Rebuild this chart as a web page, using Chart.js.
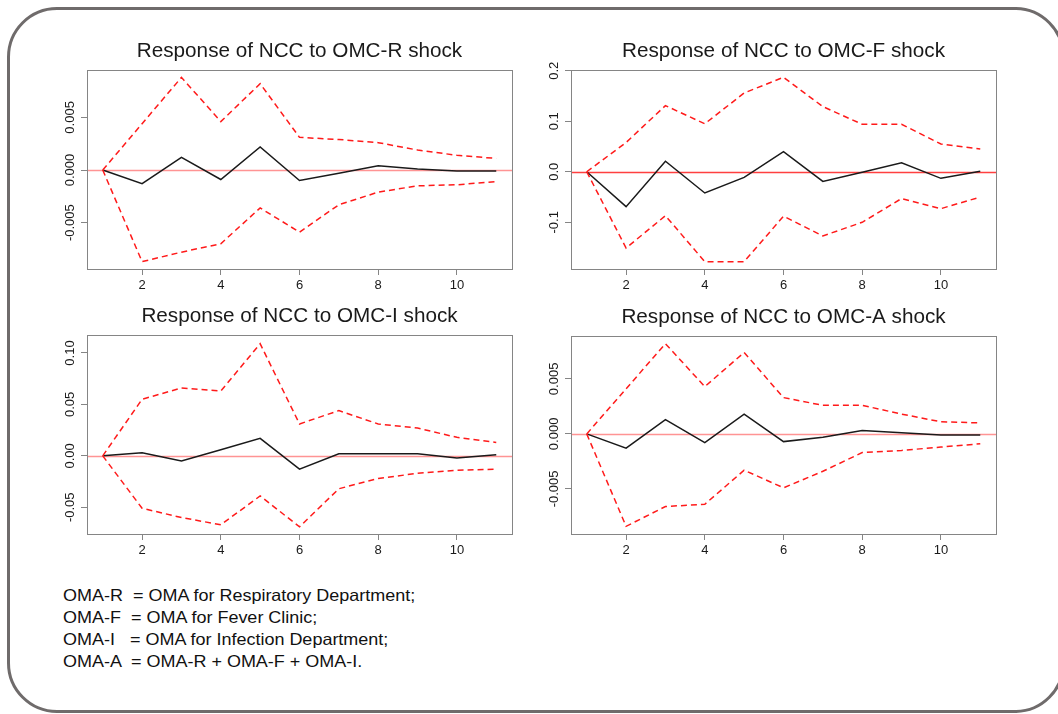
<!DOCTYPE html>
<html>
<head>
<meta charset="utf-8">
<script src="https://cdn.jsdelivr.net/npm/chart.js@4.4.1/dist/chart.umd.min.js"></script>
<style>
  html, body { margin: 0; padding: 0; background: #fff; overflow: hidden; }
  body { width: 1058px; height: 714px; position: relative; font-family: "Liberation Sans", Arial, sans-serif; }
  .frame { position: absolute; left: 7px; top: 7px; width: 1052px; height: 700px; border: 3px solid #6f6b6b; border-radius: 50px; }
  canvas { position: absolute; }
  .note { position: absolute; left: 63px; font-size: 16.5px; color: #111; white-space: pre; line-height: 1; transform: scaleX(1.09); transform-origin: left center; }
</style>
</head>
<body>
<div class="frame"></div>
<canvas id="c1"></canvas>
<canvas id="c2"></canvas>
<canvas id="c3"></canvas>
<canvas id="c4"></canvas>
<div class="note" style="top:587px">OMA-R  = OMA for Respiratory Department;</div>
<div class="note" style="top:609px">OMA-F  = OMA for Fever Clinic;</div>
<div class="note" style="top:631px">OMA-I   = OMA for Infection Department;</div>
<div class="note" style="top:653px">OMA-A  = OMA-R + OMA-F + OMA-I.</div>
<script>
// horizon steps
var steps = [1, 2, 3, 4, 5, 6, 7, 8, 9, 10, 11];
var xTicks = [2, 4, 6, 8, 10];

// OMC-R shock
var rIrf   = [0, -0.0013, 0.0012, -0.0009, 0.0022, -0.0010, -0.0003, 0.0004, 0.0001, -0.0001, -0.0001];
var rUpper = [0, 0.0044, 0.0088, 0.0046, 0.0082, 0.0031, 0.0029, 0.0026, 0.0019, 0.0014, 0.0011];
var rLower = [0, -0.0087, -0.0078, -0.0070, -0.0036, -0.0059, -0.0033, -0.0021, -0.0015, -0.0014, -0.0011];

// OMC-F shock
var fIrf   = [0, -0.069, 0.021, -0.042, -0.011, 0.040, -0.019, -0.001, 0.018, -0.013, 0.001];
var fUpper = [0, 0.058, 0.131, 0.095, 0.156, 0.187, 0.129, 0.094, 0.094, 0.055, 0.045];
var fLower = [0, -0.151, -0.087, -0.178, -0.178, -0.088, -0.127, -0.100, -0.053, -0.073, -0.050];

// OMC-I shock
var iIrf   = [0, 0.003, -0.005, 0.006, 0.017, -0.013, 0.002, 0.002, 0.002, -0.002, 0.001];
var iUpper = [0, 0.055, 0.066, 0.063, 0.109, 0.031, 0.044, 0.031, 0.027, 0.018, 0.013];
var iLower = [0, -0.051, -0.060, -0.067, -0.039, -0.069, -0.032, -0.022, -0.017, -0.014, -0.013];

// OMC-A shock
var aIrf   = [0, -0.0013, 0.0013, -0.0008, 0.0018, -0.0007, -0.0003, 0.0003, 0.0001, -0.0001, -0.0001];
var aUpper = [0, 0.0041, 0.0082, 0.0043, 0.0074, 0.0033, 0.0026, 0.0026, 0.0018, 0.0011, 0.0010];
var aLower = [0, -0.0084, -0.0066, -0.0064, -0.0033, -0.0049, -0.0034, -0.0017, -0.0015, -0.0012, -0.0009];

var ticksSmall = [-0.005, 0, 0.005];
var labelsSmall = ['-0.005', '0.000', '0.005'];
var ticksF = [-0.1, 0, 0.1, 0.2];
var labelsF = ['-0.1', '0.0', '0.1', '0.2'];
var ticksI = [-0.05, 0, 0.05, 0.10];
var labelsI = ['-0.05', '0.00', '0.05', '0.10'];

var FONT = '"Liberation Sans", Arial, sans-serif';
var PAD_L = 60, PAD_T = 55, PAD_R = 20, PAD_B = 35;

function pts(arr) {
  return steps.map(function (s, i) { return { x: s, y: arr[i] }; });
}

// frame, zero line, rotated y labels and title
var panelDecor = {
  id: 'panelDecor',
  beforeDatasetsDraw: function (chart, args, opts) {
    var a = chart.chartArea, ctx = chart.ctx;
    var y0 = Math.round(chart.scales.y.getPixelForValue(0)) + 0.5;
    ctx.save();
    ctx.strokeStyle = opts.zeroColor;
    ctx.lineWidth = 1.5;
    ctx.beginPath();
    ctx.moveTo(a.left, y0);
    ctx.lineTo(a.right, y0);
    ctx.stroke();
    ctx.restore();
  },
  afterDraw: function (chart, args, opts) {
    var a = chart.chartArea, ctx = chart.ctx, ys = chart.scales.y;
    ctx.save();
    ctx.strokeStyle = '#858585';
    ctx.lineWidth = 1;
    ctx.strokeRect(Math.round(a.left) + 0.5, Math.round(a.top) + 0.5,
      Math.round(a.right - a.left), Math.round(a.bottom - a.top));
    ctx.fillStyle = '#1a1a1a';
    ctx.font = '13px ' + FONT;
    ctx.textAlign = 'center';
    ctx.textBaseline = 'middle';
    ys.ticks.forEach(function (t, i) {
      var py = ys.getPixelForValue(t.value);
      ctx.save();
      ctx.translate(a.left - 17, py);
      ctx.rotate(-Math.PI / 2);
      ctx.fillText(opts.yLabels[i], 0, 0);
      ctx.restore();
    });
    ctx.font = '20.7px ' + FONT;
    ctx.fillText(opts.title, (a.left + a.right) / 2, a.top - 19);
    ctx.restore();
  }
};

function panel(id, area, title, irf, upper, lower, yMin, yMax, yTicks, yLabels, zeroColor) {
  var cv = document.getElementById(id);
  var w = area[2] - area[0] + PAD_L + PAD_R;
  var h = area[3] - area[1] + PAD_T + PAD_B;
  cv.width = w; cv.height = h;
  cv.style.left = (area[0] - PAD_L) + 'px';
  cv.style.top = (area[1] - PAD_T) + 'px';
  cv.style.width = w + 'px';
  cv.style.height = h + 'px';

  var red = { borderColor: '#ff1a1a', borderWidth: 1.5, borderDash: [6, 4], pointRadius: 0, tension: 0, fill: false };
  return new Chart(cv, {
    type: 'line',
    data: {
      datasets: [
        Object.assign({ label: 'upper', data: pts(upper) }, red),
        Object.assign({ label: 'lower', data: pts(lower) }, red),
        { label: 'irf', data: pts(irf), borderColor: '#1a1a1a', borderWidth: 1.5, pointRadius: 0, tension: 0, fill: false }
      ]
    },
    options: {
      responsive: false,
      animation: false,
      devicePixelRatio: 1,
      layout: { padding: { left: 0, top: PAD_T, right: PAD_R, bottom: 0 } },
      plugins: {
        legend: { display: false },
        tooltip: { enabled: false },
        panelDecor: { title: title, yLabels: yLabels, zeroColor: zeroColor }
      },
      scales: {
        x: {
          type: 'linear', min: 0.6, max: 11.4,
          afterFit: function (s) { s.height = PAD_B; },
          afterBuildTicks: function (s) { s.ticks = xTicks.map(function (v) { return { value: v }; }); },
          grid: { drawOnChartArea: false, drawTicks: true, tickLength: 6, color: '#858585' },
          border: { display: false },
          ticks: { color: '#1a1a1a', padding: 3, maxRotation: 0, font: { family: FONT, size: 13 } }
        },
        y: {
          type: 'linear', min: yMin, max: yMax,
          afterFit: function (s) { s.width = PAD_L; },
          afterBuildTicks: function (s) { s.ticks = yTicks.map(function (v) { return { value: v }; }); },
          grid: { drawOnChartArea: false, drawTicks: true, tickLength: 6, color: '#858585' },
          border: { display: false },
          ticks: { color: 'rgba(0,0,0,0)', font: { family: FONT, size: 13 } }
        }
      }
    },
    plugins: [panelDecor]
  });
}

panel('c1', [87, 70, 512, 269], 'Response of NCC to OMC-R shock', rIrf, rUpper, rLower, -0.0094, 0.0095, ticksSmall, labelsSmall, 'rgba(255,60,60,0.55)');
panel('c2', [571, 70, 996, 269], 'Response of NCC to OMC-F shock', fIrf, fUpper, fLower, -0.1925, 0.2015, ticksF, labelsF, 'rgba(255,30,30,0.85)');
panel('c3', [87, 335, 512, 534], 'Response of NCC to OMC-I shock', iIrf, iUpper, iLower, -0.076, 0.1175, ticksI, labelsI, 'rgba(255,60,60,0.55)');
panel('c4', [571, 336, 996, 534], 'Response of NCC to OMC-A shock', aIrf, aUpper, aLower, -0.0091, 0.0089, ticksSmall, labelsSmall, 'rgba(255,60,60,0.55)');
</script>
</body>
</html>
